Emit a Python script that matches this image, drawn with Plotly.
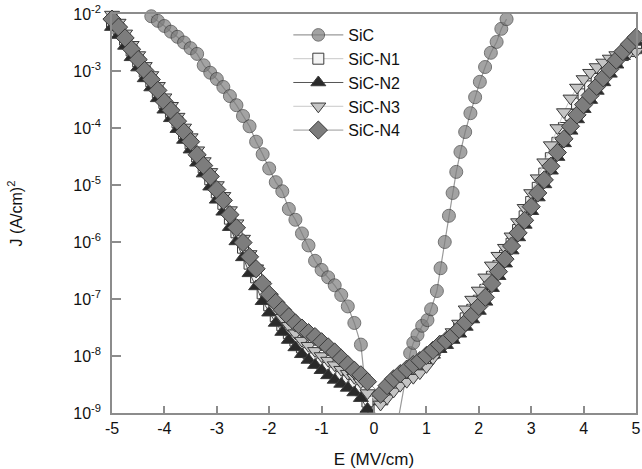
import numpy as np
import plotly.graph_objects as go

# ---- data (log10 of J in A/cm^2) ----
sic_E = [-4.25, -4.125, -4.0, -3.875, -3.75, -3.625, -3.5, -3.375, -3.25, -3.125, -3.0,
         -2.875, -2.75, -2.625, -2.5, -2.375, -2.25, -2.125, -2.0, -1.875, -1.75, -1.625,
         -1.5, -1.375, -1.25, -1.125, -1.0, -0.875, -0.75, -0.625, -0.5, -0.375, -0.25,
         0.0, 0.25,
         0.69, 0.75, 0.83, 0.92, 1.02, 1.09, 1.20, 1.27, 1.35, 1.43, 1.50, 1.57, 1.65,
         1.74, 1.84, 1.93, 2.02, 2.12, 2.23, 2.34, 2.43, 2.53]
sic_logJ = [-2.04, -2.12, -2.21, -2.31, -2.40, -2.50, -2.60, -2.70, -2.90, -3.03, -3.14,
            -3.28, -3.44, -3.60, -3.79, -3.97, -4.24, -4.46, -4.71, -4.95, -5.11, -5.42,
            -5.61, -5.85, -6.06, -6.33, -6.49, -6.62, -6.76, -6.93, -7.13, -7.42, -7.80,
            -10.0, -10.2,
            -7.95, -7.77, -7.63, -7.47, -7.37, -7.18, -6.86, -6.46, -6.00, -5.54, -5.14, -4.77, -4.42,
            -4.07, -3.74, -3.46, -3.19, -2.93, -2.68, -2.49, -2.26, -2.09]

n_E = [-5.0, -4.875, -4.75, -4.625, -4.5, -4.375, -4.25, -4.125, -4.0, -3.875,
       -3.75, -3.625, -3.5, -3.375, -3.25, -3.125, -3.0, -2.875, -2.75, -2.625,
       -2.5, -2.375, -2.25, -2.125, -2.0, -1.875, -1.75, -1.625, -1.5, -1.375,
       -1.25, -1.125, -1.0, -0.875, -0.75, -0.625, -0.5, -0.375, -0.25, -0.125,
       0.125, 0.25, 0.375, 0.5, 0.625, 0.75, 0.875, 1.0, 1.125, 1.25,
       1.375, 1.5, 1.625, 1.75, 1.875, 2.0, 2.125, 2.25, 2.375, 2.5,
       2.625, 2.75, 2.875, 3.0, 3.125, 3.25, 3.375, 3.5, 3.625, 3.75,
       3.875, 4.0, 4.125, 4.25, 4.375, 4.5, 4.625, 4.75, 4.875, 5.0]

n1_logJ = [-2.15, -2.26, -2.45, -2.64, -2.83, -3.01, -3.18, -3.37, -3.56, -3.72,
           -3.90, -4.10, -4.27, -4.50, -4.69, -4.90, -5.13, -5.33, -5.59, -5.83,
           -6.10, -6.38, -6.62, -6.90, -7.11, -7.30, -7.46, -7.60, -7.73, -7.85,
           -7.95, -8.04, -8.13, -8.21, -8.29, -8.37, -8.44, -8.51, -8.60, -8.80,
           -8.70, -8.58, -8.47, -8.38, -8.30, -8.22, -8.14, -8.05, -7.95, -7.84,
           -7.74, -7.64, -7.52, -7.34, -7.19, -7.03, -6.84, -6.61, -6.42, -6.24,
           -6.03, -5.79, -5.55, -5.30, -5.05, -4.80, -4.53, -4.26, -4.00, -3.77,
           -3.57, -3.41, -3.27, -3.14, -3.03, -2.92, -2.81, -2.72, -2.65, -2.60]
n2_logJ = [-2.23, -2.37, -2.56, -2.76, -2.94, -3.13, -3.29, -3.48, -3.68, -3.83,
           -4.02, -4.21, -4.38, -4.61, -4.80, -5.03, -5.26, -5.47, -5.74, -5.99,
           -6.27, -6.55, -6.78, -7.04, -7.24, -7.42, -7.58, -7.72, -7.85, -7.97,
           -8.07, -8.16, -8.25, -8.34, -8.42, -8.49, -8.56, -8.64, -8.74, -8.93,
           -8.80, -8.62, -8.48, -8.38, -8.31, -8.23, -8.16, -8.07, -7.98, -7.88,
           -7.81, -7.72, -7.61, -7.49, -7.36, -7.21, -7.05, -6.81, -6.60, -6.38,
           -6.15, -5.92, -5.70, -5.46, -5.22, -4.99, -4.75, -4.51, -4.27, -4.05,
           -3.85, -3.67, -3.51, -3.35, -3.20, -3.05, -2.89, -2.74, -2.61, -2.49]
n3_logJ = [-2.01, -2.15, -2.34, -2.54, -2.72, -2.91, -3.07, -3.26, -3.46, -3.61,
           -3.80, -3.99, -4.16, -4.39, -4.58, -4.77, -5.00, -5.19, -5.44, -5.67,
           -5.94, -6.21, -6.46, -6.75, -6.98, -7.17, -7.33, -7.47, -7.60, -7.73,
           -7.82, -7.91, -8.00, -8.08, -8.16, -8.24, -8.31, -8.38, -8.46, -8.65,
           -8.85, -8.74, -8.62, -8.52, -8.45, -8.38, -8.30, -8.19, -8.04, -7.87,
           -7.71, -7.58, -7.43, -7.18, -7.01, -6.85, -6.62, -6.41, -6.24, -6.10,
           -5.90, -5.65, -5.40, -5.14, -4.88, -4.60, -4.30, -4.00, -3.72, -3.48,
           -3.29, -3.14, -3.03, -2.93, -2.85, -2.78, -2.72, -2.69, -2.67, -2.66]
n4_logJ = [-2.09, -2.23, -2.42, -2.62, -2.80, -2.99, -3.15, -3.34, -3.54, -3.69,
           -3.88, -4.07, -4.24, -4.47, -4.66, -4.85, -5.08, -5.27, -5.52, -5.75,
           -6.01, -6.26, -6.47, -6.73, -6.92, -7.06, -7.19, -7.31, -7.42, -7.51,
           -7.59, -7.66, -7.75, -7.84, -7.93, -8.04, -8.15, -8.25, -8.33, -8.45,
           -8.67, -8.52, -8.40, -8.31, -8.23, -8.15, -8.08, -7.99, -7.90, -7.80,
           -7.73, -7.64, -7.53, -7.41, -7.28, -7.13, -6.97, -6.73, -6.52, -6.30,
           -6.07, -5.84, -5.62, -5.38, -5.14, -4.91, -4.67, -4.43, -4.19, -3.97,
           -3.77, -3.59, -3.43, -3.27, -3.12, -2.97, -2.81, -2.66, -2.53, -2.41]

x_ticks = [-5, -4, -3, -2, -1, 0, 1, 2, 3, 4, 5]
x_ticklabels = ["-5", "-4", "-3", "-2", "-1", "0", "1", "2", "3", "4", "5"]
y_ticks = [1e-9, 1e-8, 1e-7, 1e-6, 1e-5, 1e-4, 1e-3, 1e-2]
y_ticklabels = ["10<sup>-9</sup>", "10<sup>-8</sup>", "10<sup>-7</sup>", "10<sup>-6</sup>",
                "10<sup>-5</sup>", "10<sup>-4</sup>", "10<sup>-3</sup>", "10<sup>-2</sup>"]

FONT = "Liberation Sans, Arial, sans-serif"

fig = go.Figure()

def J(v):
    return (10.0 ** np.array(v)).tolist()

sic_sizes = [0 if v < -9 else 13 for v in sic_logJ]
fig.add_trace(go.Scatter(
    x=sic_E, y=J(sic_logJ), name="SiC", mode="lines+markers",
    line=dict(color="#9a9a9a", width=1.2),
    marker=dict(symbol="circle", size=sic_sizes, color="#7d7d7d",
                line=dict(color="#3a3a3a", width=1)),
    cliponaxis=False))

styles = [
    ("SiC-N1", n1_logJ, "square", 11, "#f4f4f4", "#c8c8c8"),
    ("SiC-N2", n2_logJ, "triangle-up", 13, "#2a2a2a", "#555555"),
    ("SiC-N3", n3_logJ, "triangle-down", 13, "#c4c4c4", "#c8c8c8"),
    ("SiC-N4", n4_logJ, "diamond", 14, "#7d7d7d", "#9a9a9a"),
]
for name, vals, sym, sz, fill, lc in styles:
    fig.add_trace(go.Scatter(
        x=n_E, y=J(vals), name=name, mode="lines+markers",
        line=dict(color=lc, width=1),
        marker=dict(symbol=sym, size=sz, color=fill,
                    line=dict(color="#3a3a3a", width=1)),
        cliponaxis=False))

axis_common = dict(
    showline=True, linecolor="#8c8c8c", linewidth=1.5, mirror=True,
    ticks="inside", tickcolor="#8c8c8c", tickwidth=1.5,
    showgrid=False, zeroline=False, ticklabeloverflow="allow",
    tickfont=dict(family=FONT, size=16, color="#111111"),
)

fig.update_layout(
    width=642, height=469,
    margin=dict(l=112, r=6, t=14, b=56),
    paper_bgcolor="white", plot_bgcolor="white",
    font=dict(family=FONT, color="#111111"),
    xaxis=dict(range=[-5, 5], tickvals=x_ticks, ticktext=x_ticklabels, ticklen=7,
               title=dict(text="E (MV/cm)", font=dict(family=FONT, size=17), standoff=19),
               automargin=False, **axis_common),
    yaxis=dict(type="log", range=[-9, -2], tickvals=y_ticks, ticktext=y_ticklabels,
               ticklen=9, ticklabelstandoff=6,
               title=dict(text="J (A/cm)<sup>2</sup>", font=dict(family=FONT, size=16), standoff=47),
               automargin=False, **axis_common),
    legend=dict(x=0.3365, y=0.99, xanchor="left", yanchor="top",
                font=dict(family=FONT, size=16, color="#111111"),
                bgcolor="rgba(0,0,0,0)", itemwidth=50, tracegroupgap=0),
    showlegend=True,
)

fig.write_html("out.html", config={"displayModeBar": False},
               post_script="document.body.style.margin='0';")
